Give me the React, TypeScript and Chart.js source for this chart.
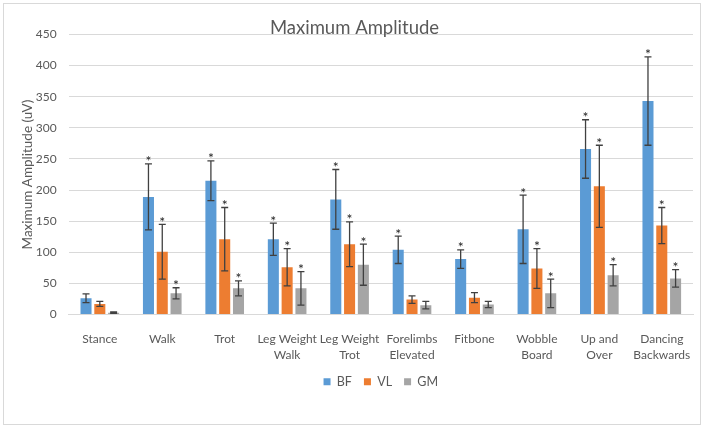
import { useEffect, useRef } from "react"
import { Chart, registerables } from "chart.js"

Chart.register(...registerables)

const categories = [
  ["Stance"],
  ["Walk"],
  ["Trot"],
  ["Leg Weight", "Walk"],
  ["Leg Weight", "Trot"],
  ["Forelimbs", "Elevated"],
  ["Fitbone"],
  ["Wobble", "Board"],
  ["Up and", "Over"],
  ["Dancing", "Backwards"],
]

const bfValues = [26, 189, 215, 121, 185, 104, 89, 137, 266, 343]
const bfErrors = [7, 53, 32, 26, 48, 22, 15, 55, 47, 71]
const bfSig = [false, true, true, true, true, true, true, true, true, true]

const vlValues = [17, 101, 121, 76, 113, 24, 27, 74, 206, 143]
const vlErrors = [4, 44, 51, 30, 36, 6, 8, 32, 66, 29]
const vlSig = [false, true, true, true, true, false, false, true, true, true]

const gmValues = [3, 34, 42, 42, 80, 15, 16, 34, 63, 58]
const gmErrors = [1, 9, 12, 27, 33, 6, 5, 23, 17, 14]
const gmSig = [false, true, true, true, true, false, false, true, true, true]

const yTicks = [0, 50, 100, 150, 200, 250, 300, 350, 400, 450]

const FONT = "Lato, 'Noto Sans', sans-serif"
const TEXT = "#595959"
const GRID = "#d9d9d9"

const errorsBySet = [bfErrors, vlErrors, gmErrors]
const sigBySet = [bfSig, vlSig, gmSig]

// draws the error bars and significance stars on top of each bar
const errorBarPlugin = {
  id: "errorBars",
  afterDatasetsDraw(chart: Chart) {
    const ctx = chart.ctx
    const y = chart.scales.y
    ctx.save()
    ctx.strokeStyle = "#404040"
    ctx.fillStyle = "#262626"
    ctx.lineWidth = 1.3
    ctx.font = `14px ${FONT}`
    ctx.textAlign = "center"
    ctx.textBaseline = "alphabetic"
    chart.data.datasets.forEach((ds, di) => {
      const meta = chart.getDatasetMeta(di)
      meta.data.forEach((bar: any, i: number) => {
        const v = ds.data[i] as number
        const e = errorsBySet[di][i]
        const top = y.getPixelForValue(v + e)
        const bottom = y.getPixelForValue(Math.max(v - e, 0))
        const x = bar.x
        ctx.beginPath()
        ctx.moveTo(x, top)
        ctx.lineTo(x, bottom)
        ctx.moveTo(x - 3.5, top)
        ctx.lineTo(x + 3.5, top)
        ctx.moveTo(x - 3.5, bottom)
        ctx.lineTo(x + 3.5, bottom)
        ctx.stroke()
        if (sigBySet[di][i]) {
          ctx.fillText("*", x, top + 2.5)
        }
      })
    })
    ctx.restore()
  },
}

export default function App() {
  const chartRef = useRef<HTMLCanvasElement>(null)
  const chartInstance = useRef<Chart | null>(null)

  useEffect(() => {
    if (!chartRef.current) return
    if (chartInstance.current) chartInstance.current.destroy()

    const ctx = chartRef.current.getContext("2d")
    if (!ctx) return

    chartInstance.current = new Chart(ctx, {
      type: "bar",
      data: {
        labels: categories,
        datasets: [
          { label: "BF", data: bfValues, backgroundColor: "#5b9bd5" },
          { label: "VL", data: vlValues, backgroundColor: "#ed7d31" },
          { label: "GM", data: gmValues, backgroundColor: "#a5a5a5" },
        ],
      },
      options: {
        animation: false,
        responsive: true,
        maintainAspectRatio: false,
        datasets: {
          bar: { categoryPercentage: 0.663, barPercentage: 0.8 },
        },
        layout: { padding: { top: 0, right: 0, bottom: 30, left: 0 } },
        scales: {
          x: {
            grid: { display: false },
            border: { display: true, color: GRID, width: 1 },
            ticks: {
              color: TEXT,
              font: { family: FONT, size: 12, lineHeight: 1.33 },
              padding: 9,
              maxRotation: 0,
              autoSkip: false,
            },
            afterFit: (scale: any) => {
              scale.height = 49
            },
          },
          y: {
            min: 0,
            max: 450,
            afterBuildTicks: (scale: any) => {
              scale.ticks = yTicks.map((value) => ({ value }))
            },
            grid: { color: GRID, lineWidth: 1, drawTicks: false },
            border: { display: false },
            ticks: {
              color: TEXT,
              font: { family: FONT, size: 12 },
              padding: 12,
            },
            title: {
              display: true,
              text: "Maximum Amplitude (uV)",
              color: TEXT,
              font: { family: FONT, size: 13.5 },
              padding: { top: 20, bottom: 0 },
            },
            afterFit: (scale: any) => {
              scale.width = 68.6
            },
          },
          // empty right-hand axis, only keeps the right margin of the plot
          yRight: {
            position: "right",
            grid: { display: false },
            border: { display: false },
            ticks: { display: false },
            afterFit: (scale: any) => {
              scale.width = 16
            },
          },
        },
        plugins: {
          title: {
            display: true,
            text: "Maximum Amplitude",
            color: TEXT,
            font: { family: FONT, size: 18.5, weight: "normal", lineHeight: 1 },
            padding: { top: 19, bottom: -3 },
          },
          legend: {
            position: "bottom",
            fullSize: false,
            labels: {
              color: TEXT,
              font: { family: FONT, size: 12.5 },
              boxWidth: 7,
              boxHeight: 7,
              padding: 12,
            },
          },
          tooltip: { enabled: false },
        },
      },
      plugins: [errorBarPlugin],
    })

    return () => {
      if (chartInstance.current) {
        chartInstance.current.destroy()
        chartInstance.current = null
      }
    }
  }, [])

  return (
    <div style={{ position: "fixed", left: 0, top: 0, width: 709, height: 428, background: "#fff" }}>
      <div
        style={{
          position: "absolute",
          left: 3,
          top: 3,
          width: 698,
          height: 422,
          boxSizing: "border-box",
          border: "1px solid #d9d9d9",
        }}
      />
      <div style={{ position: "absolute", left: 0, top: 0, width: 709, height: 428 }}>
        <canvas ref={chartRef} />
      </div>
    </div>
  )
}
